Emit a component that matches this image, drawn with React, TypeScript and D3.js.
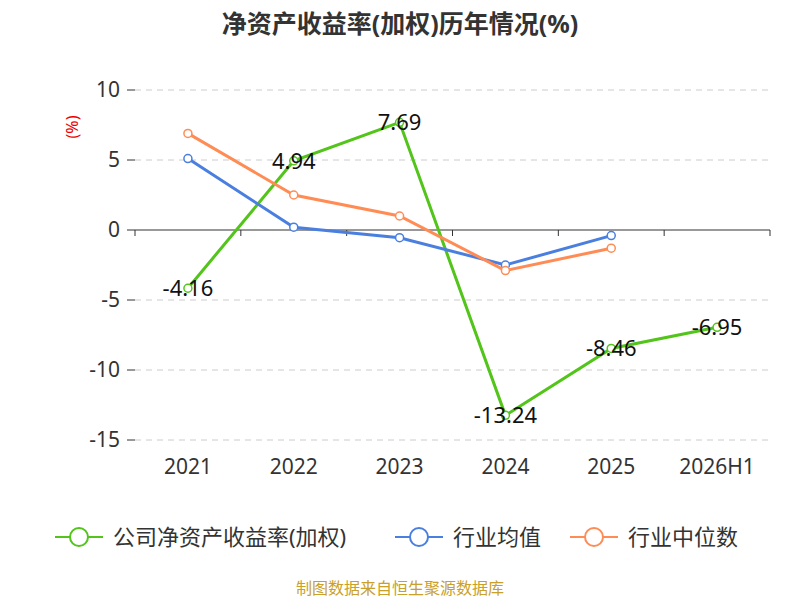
import * as d3 from "d3";

const years = ["2021", "2022", "2023", "2024", "2025", "2026H1"];
const company = [-4.16, 4.94, 7.69, -13.24, -8.46, -6.95];
const industryAvg = [5.1, 0.2, -0.55, -2.5, -0.4];
const industryMedian = [6.9, 2.5, 1.0, -2.9, -1.3];
const yTicks = [10, 5, 0, -5, -10, -15];

const font = "'Noto Sans', 'Noto Sans CJK SC', sans-serif";

export default function App() {
  const x = d3.scaleBand<string>().domain(years).range([135, 770]);
  const y = d3.scaleLinear().domain([-15, 10]).range([440, 90]);
  const cx = (i: number) => (x(years[i]) ?? 0) + x.bandwidth() / 2;
  const line = d3.line<number>().x((_, i) => cx(i)).y((d) => y(d));

  const series = [
    { name: "公司净资产收益率(加权)", color: "#52c41a", data: company },
    { name: "行业均值", color: "#4a7fe0", data: industryAvg },
    { name: "行业中位数", color: "#ff8c55", data: industryMedian },
  ];
  const legendX = [55, 395, 570];

  return (
    <svg width={800} height={600} style={{ position: "absolute", left: 0, top: 0 }} fontFamily={font}>
      <rect width={800} height={600} fill="#fff" />
      <text x={400} y={33} textAnchor="middle" fontSize={25} fontWeight="bold" fill="#333">
        净资产收益率(加权)历年情况(%)
      </text>
      <text x={78} y={127} fontSize={16} fill="#e00" textAnchor="middle" transform="rotate(-90 78 127)">
        (%)
      </text>
      {yTicks.map((t) => (
        <g key={t}>
          {t !== 0 && (
            <line x1={135} x2={770} y1={y(t)} y2={y(t)} stroke="#ccc" strokeDasharray="6,5" />
          )}
          <line x1={127} x2={135} y1={y(t)} y2={y(t)} stroke="#333" />
          <text x={120} y={y(t) + 7} textAnchor="end" fontSize={21} fill="#333">{t}</text>
        </g>
      ))}
      <line x1={135} x2={770} y1={y(0)} y2={y(0)} stroke="#333" />
      {years.map((yr, i) => (
        <g key={yr}>
          <line x1={(x(yr) ?? 0)} x2={(x(yr) ?? 0)} y1={y(0)} y2={y(0) + 6} stroke="#333" />
          <text x={cx(i)} y={474} textAnchor="middle" fontSize={21} fill="#333">{yr}</text>
        </g>
      ))}
      <line x1={770} x2={770} y1={y(0)} y2={y(0) + 6} stroke="#333" />
      {series.map((s) => (
        <g key={s.name}>
          <path d={line(s.data) ?? ""} fill="none" stroke={s.color} strokeWidth={3} />
          {s.data.map((d, i) => (
            <circle key={i} cx={cx(i)} cy={y(d)} r={4} fill="#fff" stroke={s.color} strokeWidth={1.5} />
          ))}
        </g>
      ))}
      {company.map((d, i) => (
        <text key={i} x={cx(i)} y={y(d) + 8} textAnchor="middle" fontSize={22} fill="#111">
          {d.toFixed(2)}
        </text>
      ))}
      {series.map((s, i) => (
        <g key={s.name} transform={`translate(${legendX[i]},537)`}>
          <line x1={0} x2={48} y1={0} y2={0} stroke={s.color} strokeWidth={2} />
          <circle cx={24} cy={0} r={9} fill="#fff" stroke={s.color} strokeWidth={2} />
          <text x={58} y={8} fontSize={22} fill="#333">{s.name}</text>
        </g>
      ))}
      <text x={400} y={594} textAnchor="middle" fontSize={16} fill="#c8a02a">制图数据来自恒生聚源数据库</text>
    </svg>
  );
}
